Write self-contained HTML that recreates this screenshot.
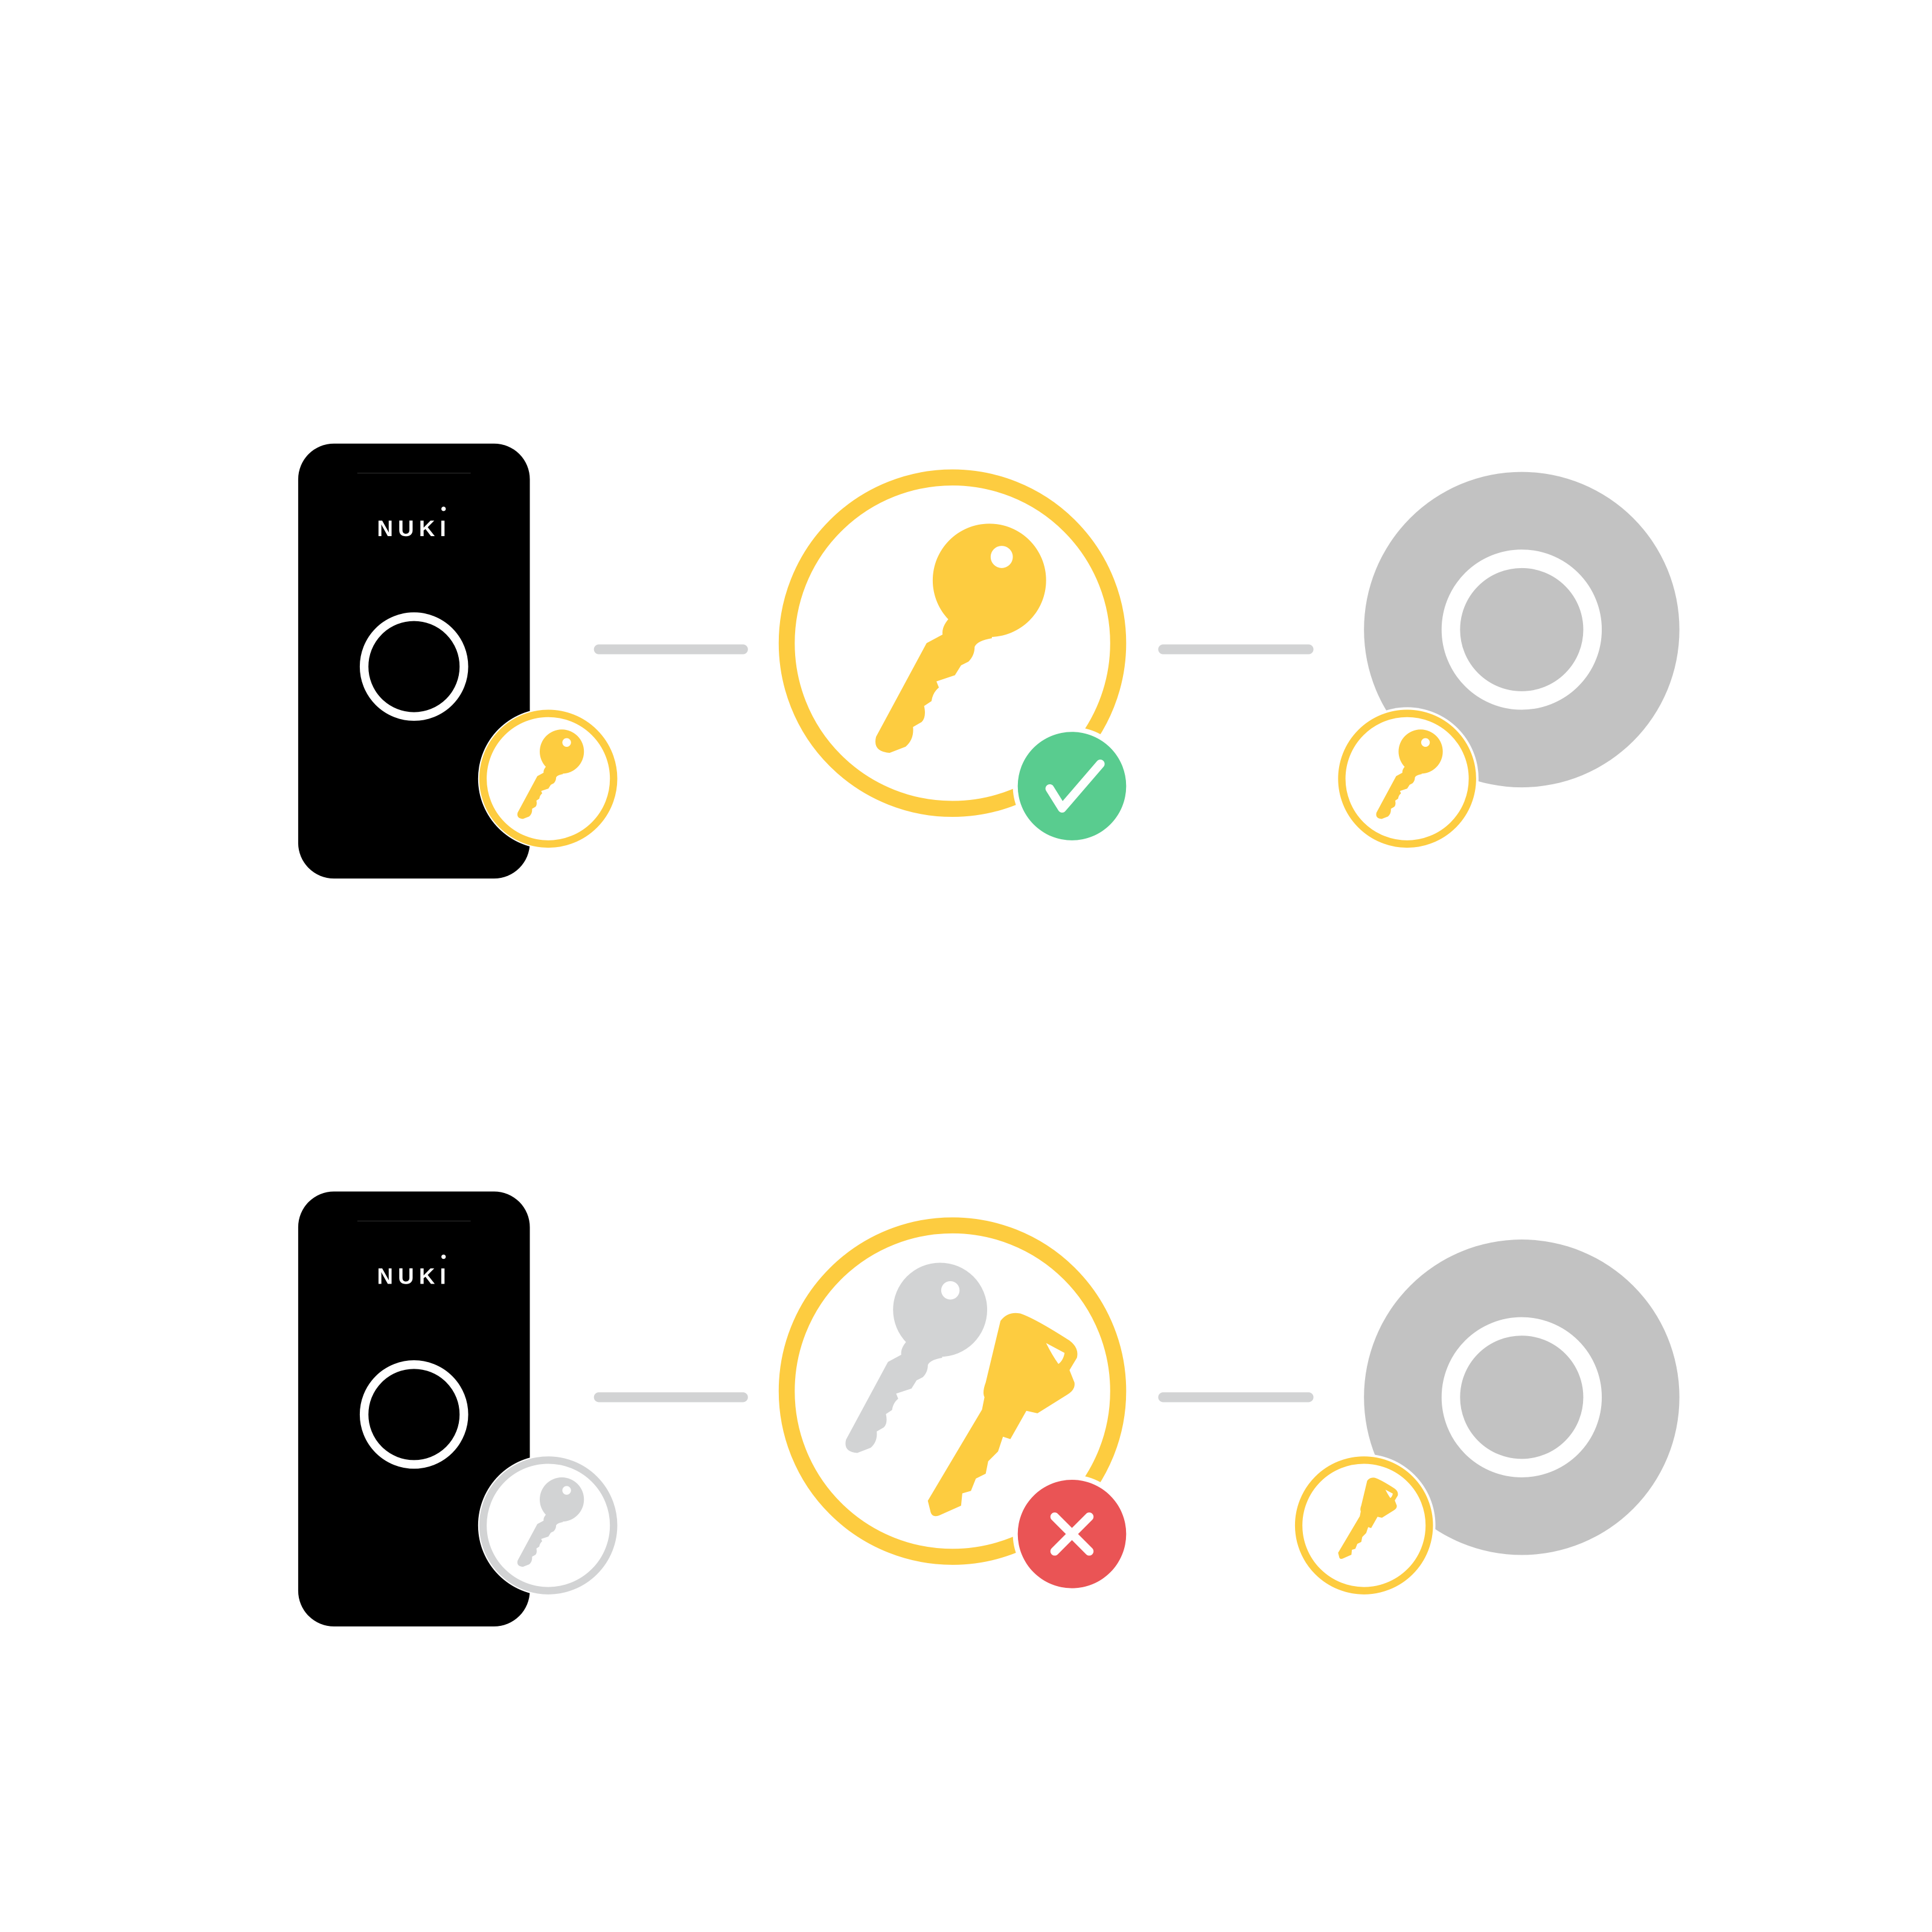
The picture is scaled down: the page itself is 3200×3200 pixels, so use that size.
<!DOCTYPE html>
<html><head><meta charset="utf-8"><style>html,body{margin:0;padding:0;background:#fff}svg{display:block}</style></head>
<body>
<svg width="3200" height="3200" viewBox="0 0 1568 1568" xmlns="http://www.w3.org/2000/svg">
<defs>
<g id="rkey">
<circle cx="803" cy="471" r="46"/>
<path d="M772,500 Q764,508 765,515 L752,522 L711,598 Q708,610 722,611 L735,606 Q742,600 741,590 L748,586 Q752,582 750,573 L756,569 Q757,562 762,558 L760,553 L775,548 L780,540 L786,537 Q791,532 791,525 Q793,520 805,518 L805,500 Z"/>
</g>
<g id="fkey">
<path d="M812,1072 Q818,1064 828,1066 Q840,1070 868,1088 Q876,1094 874,1102 L868,1112 L872,1122 Q873,1128 866,1132 L842,1147 L833,1145 L820,1168 L814,1166 L810,1178 L802,1186 L800,1196 L792,1200 L788,1210 L781,1212 L780,1222 L762,1230 Q756,1232 755,1226 L753,1218 L797,1144 L799,1134 Q797,1130 800,1122 Z"/>
</g>
</defs>

<!-- ROW 1 -->
<rect x="242" y="360" width="188" height="353" rx="29" fill="#000"/>
<line x1="290" y1="384" x2="382" y2="384" stroke="#1a1a1a" stroke-width="1"/>
<text x="336" y="435" fill="#fff" font-family="Liberation Sans, sans-serif" font-weight="bold" font-size="18" text-anchor="middle" letter-spacing="4">NUKI</text>
<circle cx="360" cy="413" r="1.8" fill="#fff"/>
<circle cx="336" cy="541" r="40.5" fill="none" stroke="#fff" stroke-width="7"/>
<circle cx="445" cy="632" r="57" fill="#fff"/>
<circle cx="445" cy="632" r="53" fill="#fff" stroke="#fdcc40" stroke-width="6"/>
<g fill="#fdcc40" transform="translate(456,610) scale(0.39) translate(-803,-471)"><use href="#rkey"/><circle cx="813" cy="452" r="9" fill="#fff"/></g>

<line x1="486" y1="527" x2="603" y2="527" stroke="#d2d3d4" stroke-width="8" stroke-linecap="round"/>
<line x1="944" y1="527" x2="1062" y2="527" stroke="#d2d3d4" stroke-width="8" stroke-linecap="round"/>

<circle cx="773" cy="522" r="134.5" fill="#fff" stroke="#fdcc40" stroke-width="13"/>
<g fill="#fdcc40"><use href="#rkey"/></g>
<circle cx="813" cy="452" r="9" fill="#fff"/>
<circle cx="870" cy="638" r="48" fill="#fff"/>
<circle cx="870" cy="638" r="44" fill="#59cc8f"/>
<path d="M852,640 L862,656 L893,620" fill="none" stroke="#fff" stroke-width="7" stroke-linecap="round" stroke-linejoin="round"/>

<circle cx="1235" cy="511" r="128" fill="#c2c2c2"/>
<circle cx="1235" cy="511" r="57.5" fill="#c2c2c2" stroke="#fff" stroke-width="15"/>
<circle cx="1142" cy="632" r="58" fill="#fff"/>
<circle cx="1142" cy="632" r="53" fill="#fff" stroke="#fdcc40" stroke-width="6"/>
<g fill="#fdcc40" transform="translate(1153,610) scale(0.39) translate(-803,-471)"><use href="#rkey"/><circle cx="813" cy="452" r="9" fill="#fff"/></g>

<!-- ROW 2 -->
<rect x="242" y="967" width="188" height="353" rx="29" fill="#000"/>
<line x1="290" y1="991" x2="382" y2="991" stroke="#1a1a1a" stroke-width="1"/>
<text x="336" y="1042" fill="#fff" font-family="Liberation Sans, sans-serif" font-weight="bold" font-size="18" text-anchor="middle" letter-spacing="4">NUKI</text>
<circle cx="360" cy="1020" r="1.8" fill="#fff"/>
<circle cx="336" cy="1148" r="40.5" fill="none" stroke="#fff" stroke-width="7"/>
<circle cx="445" cy="1238" r="57" fill="#fff"/>
<circle cx="445" cy="1238" r="53" fill="#fff" stroke="#d2d3d4" stroke-width="6"/>
<g fill="#d2d3d4" transform="translate(456,1217) scale(0.39) translate(-803,-471)"><use href="#rkey"/><circle cx="813" cy="452" r="9" fill="#fff"/></g>

<line x1="486" y1="1134" x2="603" y2="1134" stroke="#d2d3d4" stroke-width="8" stroke-linecap="round"/>
<line x1="944" y1="1134" x2="1062" y2="1134" stroke="#d2d3d4" stroke-width="8" stroke-linecap="round"/>

<circle cx="773" cy="1129" r="134.5" fill="#fff" stroke="#fdcc40" stroke-width="13"/>
<g fill="#d2d3d4" transform="translate(763,1063) scale(0.83) translate(-803,-471)"><use href="#rkey"/><circle cx="813" cy="452" r="9" fill="#fff"/></g>
<g fill="#fdcc40"><use href="#fkey"/></g>
<path d="M849,1090 L864,1098 Q863,1104 859,1107 Q854,1100 849,1090 Z" fill="#fff"/>
<circle cx="870" cy="1245" r="48" fill="#fff"/>
<circle cx="870" cy="1245" r="44" fill="#ea5455"/>
<path d="M856,1231 L884,1259 M884,1231 L856,1259" stroke="#fff" stroke-width="7" stroke-linecap="round"/>

<circle cx="1235" cy="1134" r="128" fill="#c2c2c2"/>
<circle cx="1235" cy="1134" r="57.5" fill="#c2c2c2" stroke="#fff" stroke-width="15"/>
<circle cx="1107" cy="1238" r="58" fill="#fff"/>
<circle cx="1107" cy="1238" r="53" fill="#fff" stroke="#fdcc40" stroke-width="6"/>
<g transform="translate(1120,1215) scale(0.40) translate(-838,-1105)"><use href="#fkey" fill="#fdcc40"/><path d="M849,1090 L864,1098 Q863,1104 859,1107 Q854,1100 849,1090 Z" fill="#fff"/></g>
</svg>
</body></html>
